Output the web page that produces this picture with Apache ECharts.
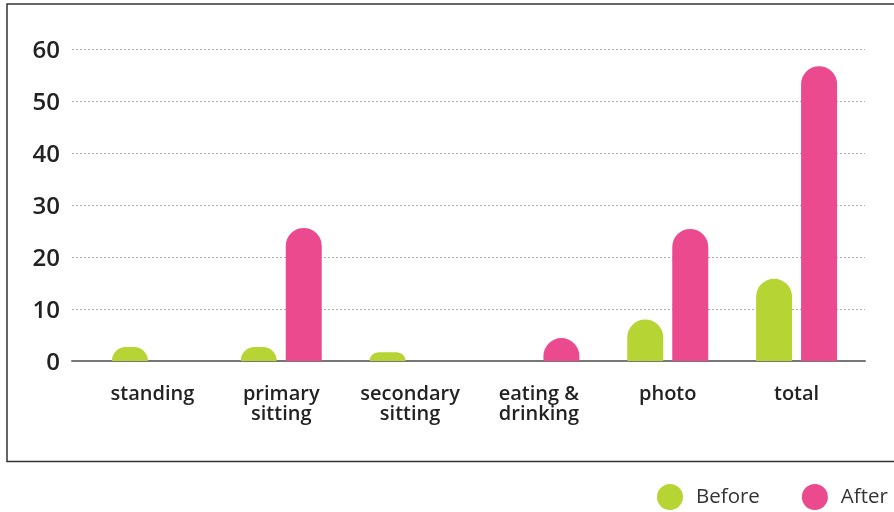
<!DOCTYPE html>
<html>
<head>
<meta charset="utf-8">
<script src="https://cdn.jsdelivr.net/npm/echarts@6/dist/echarts.min.js"></script>
<style>
html,body{margin:0;padding:0;background:#fff;}
#chart{width:894px;height:512px;}
</style>
</head>
<body>
<div id="chart"></div>
<script>
const categories = ['standing', 'primary\nsitting', 'secondary\nsitting', 'eating &\ndrinking', 'photo', 'total'];
const beforeValues = [2.7, 2.7, 1.7, 0, 8, 15.8];
const afterValues = [0, 25.6, 0, 4.4, 25.4, 56.7];
const seriesNames = ['Before', 'After'];
const yTicks = { min: 0, max: 60, interval: 10 };

const GREEN = '#b6d433';
const PINK = '#eb4a8e';
const FONT = 'Open Sans';

const chart = echarts.init(document.getElementById('chart'), null, { renderer: 'canvas' });

chart.setOption({
  animation: false,
  backgroundColor: '#fff',
  graphic: [{
    type: 'rect',
    shape: { x: 7, y: 4, width: 920, height: 457.5 },
    style: { fill: 'none', stroke: '#333', lineWidth: 1.5 },
    silent: true,
    z: -1
  }],
  legend: {
    data: seriesNames,
    left: 657,
    top: 484,
    padding: 0,
    icon: 'circle',
    itemWidth: 26,
    itemHeight: 26,
    itemGap: 42,
    textStyle: { fontFamily: FONT, fontSize: 20.5, color: '#333', padding: [0, 0, 0, 8] }
  },
  grid: [
    { left: 72, right: 29, top: 49, bottom: 151 },
    { left: 88, right: 33, top: 49, bottom: 151 }
  ],
  xAxis: [
    {
      type: 'category', gridIndex: 0, data: categories,
      axisLine: { show: true, lineStyle: { color: '#777', width: 2 } },
      axisTick: { show: false }, axisLabel: { show: false }, splitLine: { show: false }
    },
    {
      type: 'category', gridIndex: 1, data: categories,
      axisLine: { show: false }, axisTick: { show: false },
      axisLabel: {
        margin: 24, fontFamily: FONT, fontWeight: 600, fontSize: 20,
        lineHeight: 19.5, color: '#222', interval: 0
      }
    }
  ],
  yAxis: [
    {
      type: 'value', gridIndex: 0, min: yTicks.min, max: yTicks.max, interval: yTicks.interval,
      axisLine: { show: false }, axisTick: { show: false },
      axisLabel: { margin: 12, fontFamily: FONT, fontWeight: 600, fontSize: 24, color: '#222', verticalAlign: 'top', lineHeight: 24, padding: [-10, 0, 0, 0] },
      splitLine: { show: true, lineStyle: { color: '#aaa', type: [2, 2], width: 1 } }
    },
    {
      type: 'value', gridIndex: 1, min: yTicks.min, max: yTicks.max, interval: yTicks.interval,
      show: false, splitLine: { show: false }
    }
  ],
  series: [
    {
      name: seriesNames[0], type: 'bar', xAxisIndex: 1, yAxisIndex: 1,
      data: beforeValues, barWidth: 36, barGap: '25%',
      itemStyle: { color: GREEN, borderRadius: [18, 18, 0, 0] },
      z: 3
    },
    {
      name: seriesNames[1], type: 'bar', xAxisIndex: 1, yAxisIndex: 1,
      data: afterValues, barWidth: 36, barGap: '25%',
      itemStyle: { color: PINK, borderRadius: [18, 18, 0, 0] },
      z: 3
    }
  ]
});
</script>
</body>
</html>
